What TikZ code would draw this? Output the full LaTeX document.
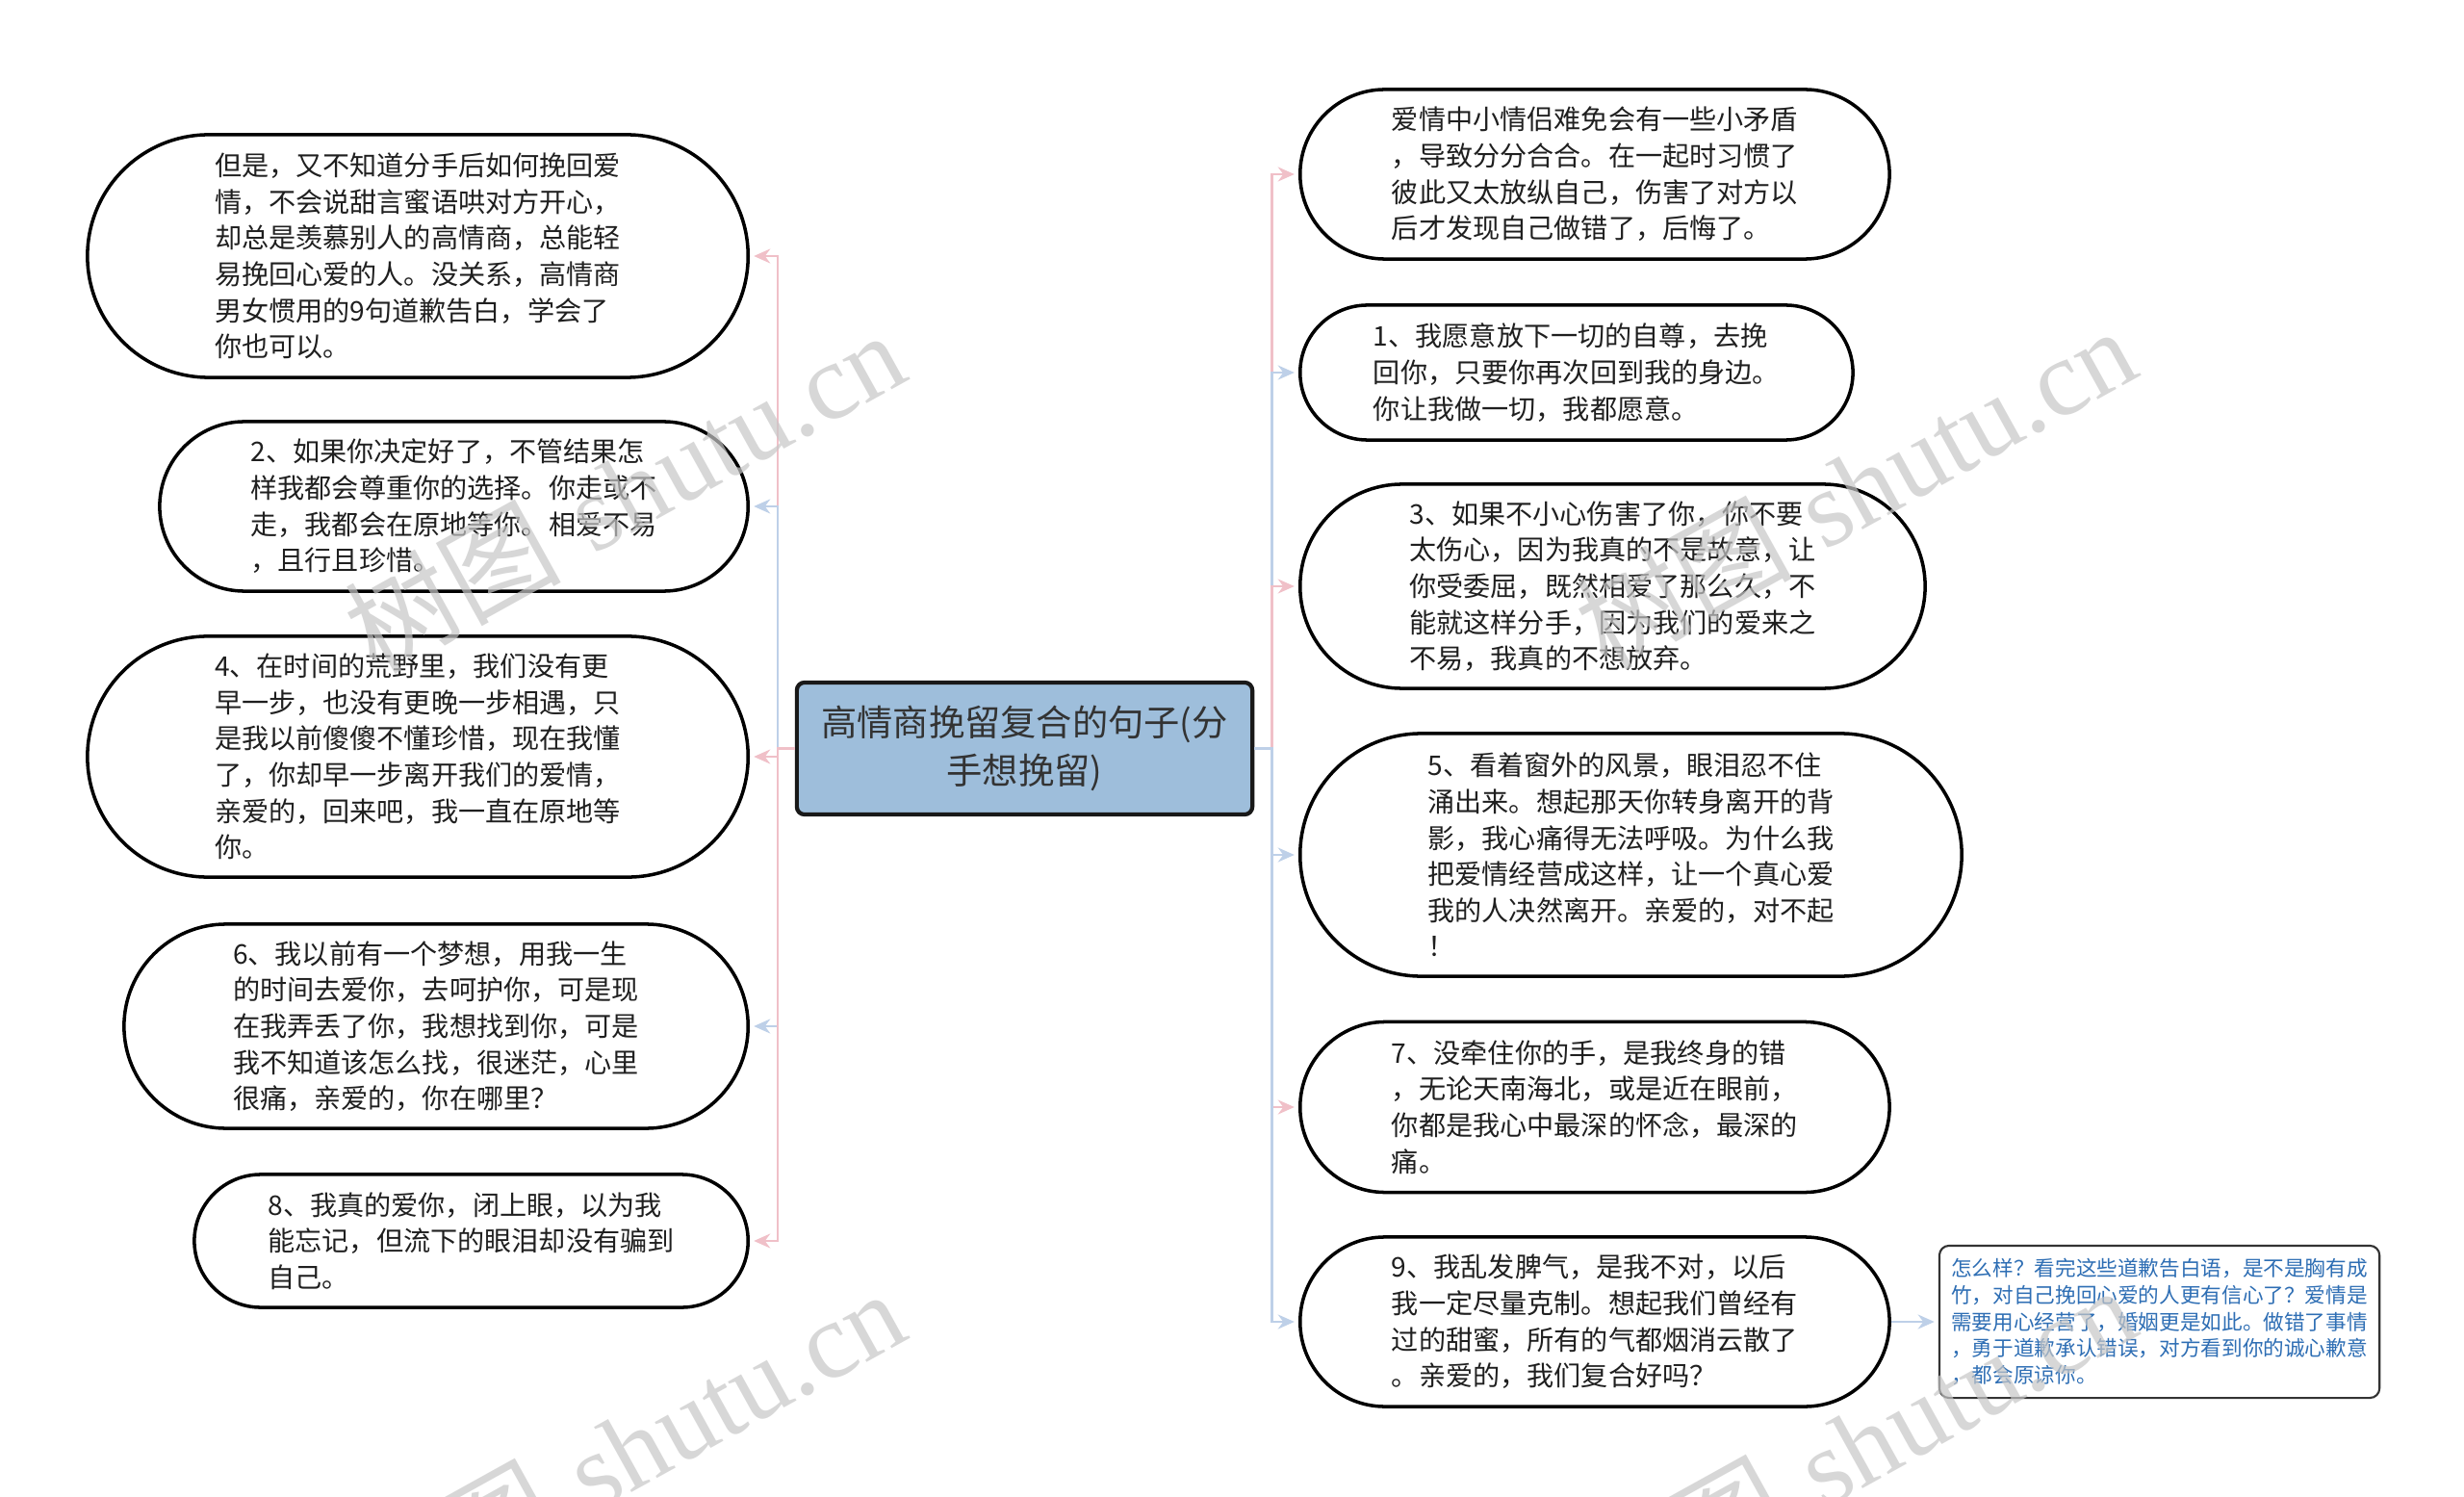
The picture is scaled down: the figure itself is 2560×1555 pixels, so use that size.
\documentclass[tikz,border=0pt]{standalone}
\usepackage{fontspec}
\newfontfamily\cjk{Noto Sans CJK SC}
\newfontfamily\markfont{Liberation Serif}
\usetikzlibrary{arrows.meta, positioning}
\definecolor{pinkLine}{RGB}{240,192,200}
\definecolor{blueLine}{RGB}{190,208,232}
\definecolor{rootFill}{RGB}{158,190,219}
\definecolor{noteText}{RGB}{46,110,180}
\newcommand{\tip}{{Stealth[length=1.7mm, width=1.5mm]}}
\newcommand{\lineWidth}{1pt}
\newcommand{\linkWidth}{0.7pt}
\newcommand{\trunkGap}{0.18cm}
\tikzstyle{bubble}=[draw=black, fill=white, line width=\lineWidth, inner sep=0, align=left, text=black!88, font=\cjk\fontsize{8pt}{10.7pt}\selectfont]
\tikzstyle{rootbox}=[draw=black!90, fill=rootFill, line width=1.2pt, rounded corners=0.08cm, inner sep=0, align=center, text=black!80, minimum width=4.73cm, minimum height=1.37cm, font=\cjk\fontsize{10.6pt}{14.2pt}\selectfont]
\tikzstyle{notebox}=[draw=black!80, fill=white, line width=0.6pt, rounded corners=0.1cm, inner sep=0, align=left, text=noteText, minimum width=4.57cm, minimum height=1.58cm, font=\cjk\fontsize{6.15pt}{7.9pt}\selectfont]
\tikzstyle{link}=[line width=\linkWidth, -\tip, shorten >=1.2pt]
\tikzstyle{watermark}=[rotate=29, inner sep=0, text=black!22, text opacity=0.7, font=\fontsize{32pt}{32pt}\selectfont]
\tikzset{pill/.style={minimum height=#1, rounded corners=#1/2}}

\begin{document}
\begin{tikzpicture}[x=0.01cm, y=-0.01cm]

% Frame
\fill[white] (0,0) rectangle (2560,1555);
\useasboundingbox (0,0) rectangle (2560,1555);

% Root
\node[rootbox] (root) at (1064.5,777.5) {高情商挽留复合的句子(分\\手想挽留)};

% Useful coordinates
\coordinate (leftTrunk) at ([xshift=-\trunkGap]root.west);
\coordinate (rightTrunk) at ([xshift=\trunkGap]root.east);

% Left bubbles
\node[bubble, pill=2.52cm, minimum width=6.86cm, anchor=east] (left1) at (779,266)
  {但是，又不知道分手后如何挽回爱\\情，不会说甜言蜜语哄对方开心，\\却总是羡慕别人的高情商，总能轻\\易挽回心爱的人。没关系，高情商\\男女惯用的9句道歉告白，学会了\\你也可以。};
\node[bubble, pill=1.76cm, minimum width=6.11cm, anchor=east] (left2) at (779,526)
  {2、如果你决定好了，不管结果怎\\样我都会尊重你的选择。你走或不\\走，我都会在原地等你。相爱不易\\，且行且珍惜。};
\node[bubble, pill=2.5cm, minimum width=6.86cm, anchor=east] (left3) at (779,786)
  {4、在时间的荒野里，我们没有更\\早一步，也没有更晚一步相遇，只\\是我以前傻傻不懂珍惜，现在我懂\\了，你却早一步离开我们的爱情，\\亲爱的，回来吧，我一直在原地等\\你。};
\node[bubble, pill=2.12cm, minimum width=6.48cm, anchor=east] (left4) at (779,1066)
  {6、我以前有一个梦想，用我一生\\的时间去爱你，去呵护你，可是现\\在我弄丢了你，我想找到你，可是\\我不知道该怎么找，很迷茫，心里\\很痛，亲爱的，你在哪里？};
\node[bubble, pill=1.38cm, minimum width=5.75cm, anchor=east] (left5) at (779,1289)
  {8、我真的爱你，闭上眼，以为我\\能忘记，但流下的眼泪却没有骗到\\自己。};

% Right bubbles
\node[bubble, pill=1.76cm, minimum width=6.12cm, anchor=west] (right1) at (1349,181)
  {爱情中小情侣难免会有一些小矛盾\\，导致分分合合。在一起时习惯了\\彼此又太放纵自己，伤害了对方以\\后才发现自己做错了，后悔了。};
\node[bubble, pill=1.4cm, minimum width=5.74cm, anchor=west] (right2) at (1349,387)
  {1、我愿意放下一切的自尊，去挽\\回你，只要你再次回到我的身边。\\你让我做一切，我都愿意。};
\node[bubble, pill=2.12cm, minimum width=6.49cm, anchor=west] (right3) at (1349,609)
  {3、如果不小心伤害了你，你不要\\太伤心，因为我真的不是故意，让\\你受委屈，既然相爱了那么久，不\\能就这样分手，因为我们的爱来之\\不易，我真的不想放弃。};
\node[bubble, pill=2.52cm, minimum width=6.87cm, anchor=west] (right4) at (1349,888)
  {5、看着窗外的风景，眼泪忍不住\\涌出来。想起那天你转身离开的背\\影，我心痛得无法呼吸。为什么我\\把爱情经营成这样，让一个真心爱\\我的人决然离开。亲爱的，对不起\\！};
\node[bubble, pill=1.77cm, minimum width=6.12cm, anchor=west] (right5) at (1349,1150)
  {7、没牵住你的手，是我终身的错\\，无论天南海北，或是近在眼前，\\你都是我心中最深的怀念，最深的\\痛。};
\node[bubble, pill=1.76cm, minimum width=6.12cm, anchor=west] (right6) at (1349,1373)
  {9、我乱发脾气，是我不对，以后\\我一定尽量克制。想起我们曾经有\\过的甜蜜，所有的气都烟消云散了\\。亲爱的，我们复合好吗？};

% Note
\node[notebox, right=0.49cm of right6] (noteBox)
  {怎么样？看完这些道歉告白语，是不是胸有成\\竹，对自己挽回心爱的人更有信心了？爱情是\\需要用心经营了，婚姻更是如此。做错了事情\\，勇于道歉承认错误，对方看到你的诚心歉意\\，都会原谅你。};

% Links
\foreach \n/\c in {left1/pinkLine, left2/blueLine, left3/pinkLine, left4/blueLine, left5/pinkLine} {
  \draw[link, draw=\c] (root.west) -- (leftTrunk) |- (\n.east);
  }
\foreach \n/\c in {right1/pinkLine, right2/blueLine, right3/pinkLine, right4/blueLine, right5/pinkLine, right6/blueLine} {
  \draw[link, draw=\c] (root.east) -- (rightTrunk) |- (\n.west);
  }
\draw[link, draw=blueLine] (right6.east) -- (noteBox.west);

% Watermarks
\node[watermark] (markA) at (648,510) {{\cjk 树图} {\markfont shutu.cn}};
\node[watermark] (markB) at (648,1506) {{\cjk 树图} {\markfont shutu.cn}};
\node[watermark] (markC) at (1927,506) {{\cjk 树图} {\markfont shutu.cn}};
\node[watermark] (markD) at (1927,1502) {{\cjk 树图} {\markfont shutu.cn}};

\end{tikzpicture}
\end{document}
